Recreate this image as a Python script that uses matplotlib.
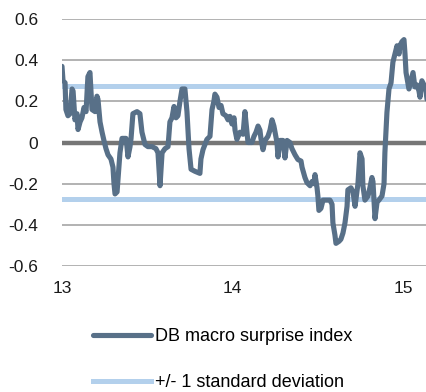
import numpy as np
from matplotlib import pyplot as plt

# DATA (decimal years, e.g. 13.5 = mid 2013)
years = [
    13.000, 13.006, 13.018, 13.023, 13.035, 13.047, 13.059, 13.065, 13.076, 13.088,
    13.094, 13.106, 13.117, 13.129, 13.141, 13.152, 13.164, 13.176, 13.194, 13.205,
    13.211, 13.223, 13.235, 13.246, 13.258, 13.270, 13.287, 13.299, 13.305, 13.311,
    13.323, 13.334, 13.340, 13.352, 13.364, 13.375, 13.381, 13.387, 13.399, 13.405,
    13.416, 13.440, 13.457, 13.469, 13.487, 13.504, 13.528, 13.551, 13.563, 13.575,
    13.587, 13.604, 13.622, 13.633, 13.645, 13.657, 13.669, 13.680, 13.692, 13.704,
    13.721, 13.733, 13.745, 13.757, 13.780, 13.809, 13.815, 13.827, 13.850, 13.868,
    13.880, 13.891, 13.897, 13.909, 13.921, 13.933, 13.944, 13.962, 13.974, 13.985,
    13.997, 14.009, 14.015, 14.026, 14.044, 14.062, 14.073, 14.085, 14.091, 14.114,
    14.126, 14.138, 14.150, 14.161, 14.167, 14.179, 14.191, 14.208, 14.220, 14.232,
    14.243, 14.261, 14.267, 14.279, 14.296, 14.308, 14.320, 14.337, 14.349, 14.367,
    14.384, 14.402, 14.408, 14.425, 14.437, 14.455, 14.466, 14.478, 14.484, 14.496,
    14.501, 14.507, 14.519, 14.531, 14.554, 14.572, 14.584, 14.589, 14.601, 14.607,
    14.625, 14.636, 14.648, 14.660, 14.672, 14.677, 14.695, 14.707, 14.719, 14.730,
    14.736, 14.748, 14.760, 14.765, 14.777, 14.795, 14.806, 14.818, 14.824, 14.836,
    14.848, 14.859, 14.877, 14.889, 14.894, 14.906, 14.918, 14.930, 14.941, 14.953,
    14.965, 14.977, 14.982, 14.994, 15.006, 15.012, 15.018, 15.029, 15.035, 15.047,
    15.059, 15.070, 15.082, 15.094, 15.100, 15.111, 15.123, 15.135, 15.141,
]
surprise = [
    0.37, 0.30, 0.29, 0.16, 0.13, 0.14, 0.26, 0.25, 0.11, 0.14,
    0.063, 0.10, 0.12, 0.17, 0.15, 0.32, 0.34, 0.16, 0.15, 0.225,
    0.21, 0.10, 0.05, 0.01, -0.03, -0.06, -0.08, -0.12, -0.20, -0.25,
    -0.24, -0.12, -0.05, 0.02, 0.02, 0.02, -0.02, -0.07, -0.02, 0.02,
    0.14, 0.15, 0.14, 0.05, -0.01, -0.02, -0.02, -0.03, -0.05, -0.21,
    -0.05, -0.03, -0.02, 0.10, 0.12, 0.175, 0.12, 0.13, 0.20, 0.26,
    0.26, 0.15, -0.03, -0.13, -0.14, -0.15, -0.08, -0.035, 0.015, 0.03,
    0.16, 0.20, 0.235, 0.22, 0.17, 0.18, 0.14, 0.13, 0.11, 0.127,
    0.09, 0.12, 0.06, 0.015, 0.05, 0.04, 0.15, 0.05, 0.0, 0.0,
    0.03, 0.05, 0.08, 0.06, 0.02, -0.035, 0.01, 0.03, 0.06, 0.11,
    0.08, 0.0, -0.07, 0.01, 0.01, -0.075, 0.01, 0.0, -0.03, -0.06,
    -0.083, -0.09, -0.12, -0.17, -0.195, -0.21, -0.19, -0.20, -0.156, -0.22,
    -0.26, -0.33, -0.32, -0.28, -0.28, -0.28, -0.30, -0.39, -0.45, -0.49,
    -0.48, -0.47, -0.44, -0.39, -0.31, -0.23, -0.22, -0.24, -0.31, -0.24,
    -0.20, -0.05, -0.08, -0.21, -0.28, -0.26, -0.22, -0.17, -0.19, -0.37,
    -0.29, -0.28, -0.26, -0.20, -0.05, 0.146, 0.26, 0.29, 0.39, 0.43,
    0.47, 0.43, 0.47, 0.49, 0.50, 0.43, 0.34, 0.29, 0.26, 0.30,
    0.34, 0.27, 0.28, 0.25, 0.22, 0.30, 0.28, 0.25, 0.21,
]
std_dev = 0.275
y_ticks = [-0.6, -0.4, -0.2, 0, 0.2, 0.4, 0.6]
y_labels = ["-0.6", "-0.4", "-0.2", "0", "0.2", "0.4", "0.6"]
x_ticks = [13, 14, 15]
x_labels = ["13", "14", "15"]

plt.rcParams["font.family"] = ["Liberation Sans", "DejaVu Sans"]

fig = plt.figure(figsize=(4.27, 3.92), dpi=100)
ax = fig.add_axes([62 / 427, 1 - 266 / 392, 365 / 427, 247 / 392])

# gridlines
for t in y_ticks:
    if t != 0:
        ax.axhline(t, color="#a6a6a6", lw=1.2, zorder=1)
ax.axhline(0, color="#767676", lw=3.2, zorder=2)

# +/- 1 standard deviation
std_line = ax.axhline(std_dev, color="#b3d0ec", lw=3.6, zorder=3)
ax.axhline(-std_dev, color="#b3d0ec", lw=3.6, zorder=3)

# the index itself
idx_line, = ax.plot(years, surprise, color="#587088", lw=3.7,
                    solid_joinstyle="round", solid_capstyle="round", zorder=4)

ax.set_xlim(13, 15.141)
ax.set_ylim(-0.6, 0.6)
ax.set_xticks(x_ticks)
ax.set_xticklabels(x_labels)
ax.set_yticks(y_ticks)
ax.set_yticklabels(y_labels)
ax.tick_params(length=0, labelsize=12.5, colors="#1a1a1a")
ax.tick_params(axis="y", pad=17)
ax.tick_params(axis="x", pad=11)
for s in ax.spines.values():
    s.set_visible(False)

fig.legend([idx_line, std_line], ["DB macro surprise index", "+/- 1 standard deviation"],
           loc="upper left", bbox_to_anchor=(93 / 427, 1 - 328 / 392),
           frameon=False, fontsize=13, handlelength=3.2, handletextpad=0.25,
           labelspacing=1.6, borderpad=0, borderaxespad=0)

plt.savefig("out.png", dpi=100)
plt.close()
